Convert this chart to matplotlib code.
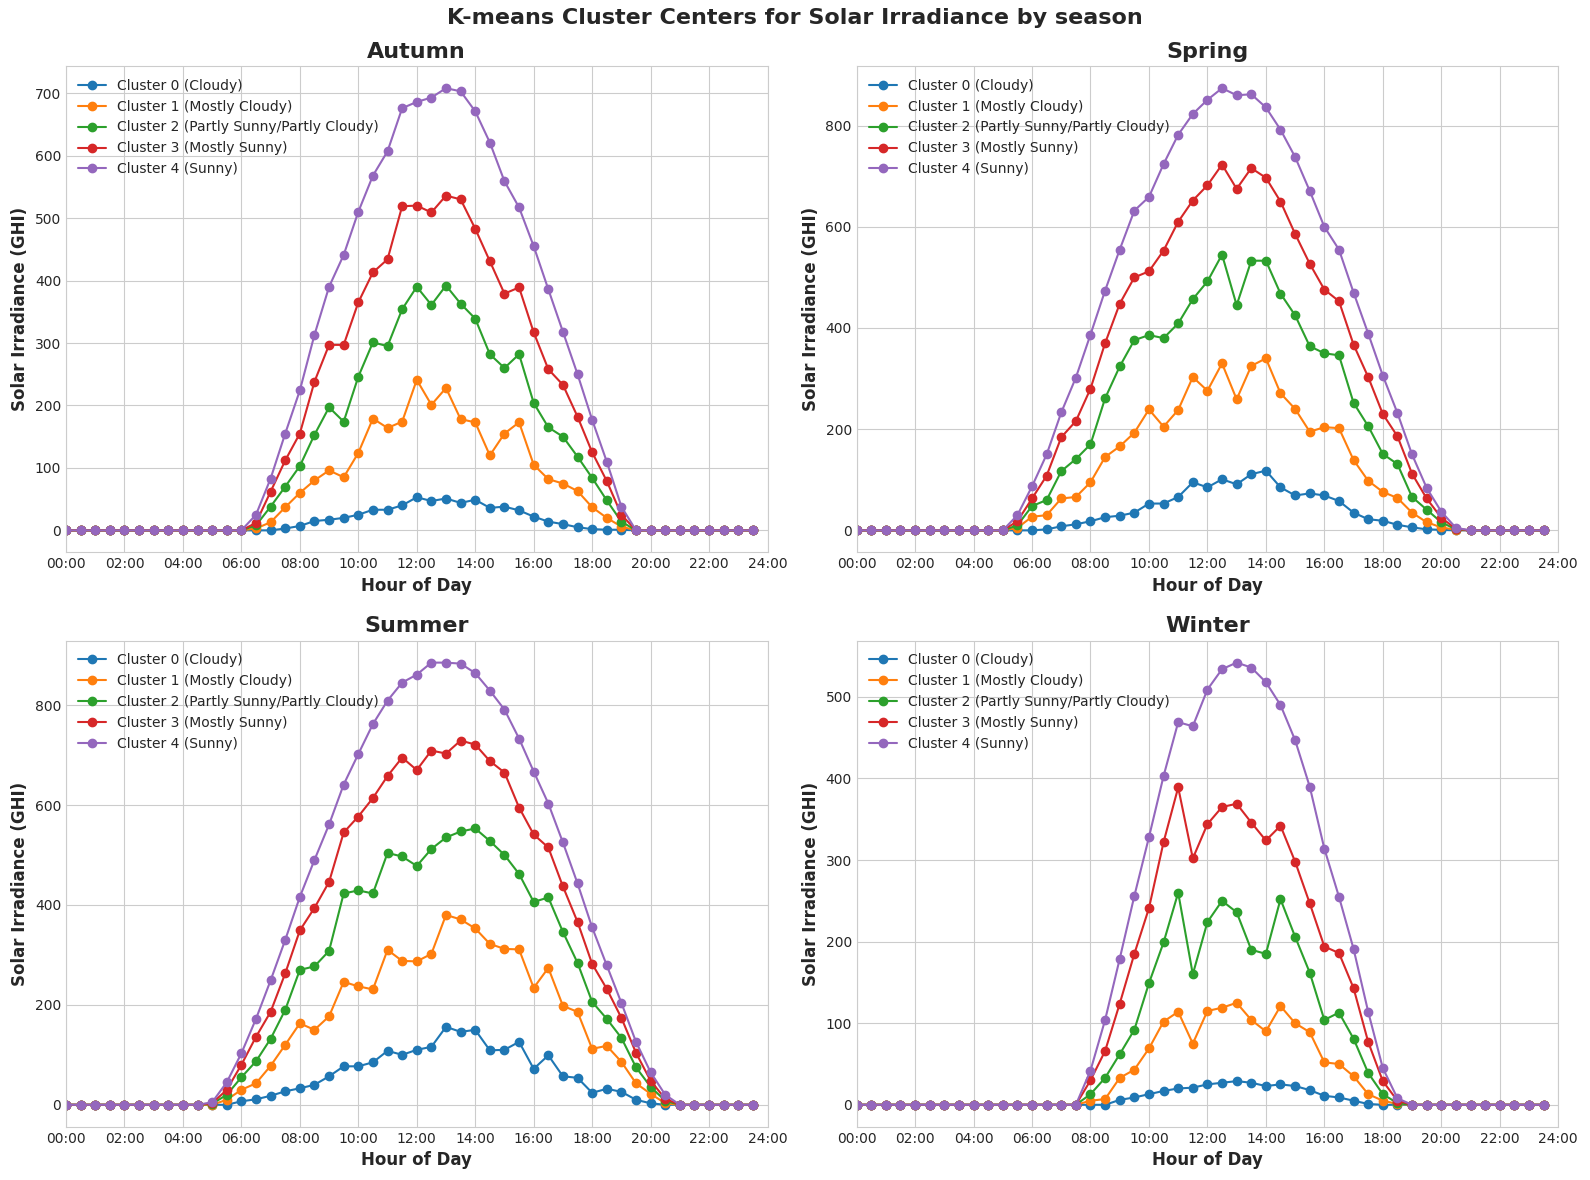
import matplotlib
matplotlib.use("Agg")
import matplotlib.pyplot as plt
from matplotlib.ticker import FuncFormatter, MultipleLocator
import numpy as np

plt.style.use("seaborn-v0_8-whitegrid")
plt.rcParams["font.family"] = ["DejaVu Sans"]

hours = [h * 0.5 for h in range(48)]
seasons = ["Autumn", "Spring", "Summer", "Winter"]
cluster_labels = ["Cluster 0 (Cloudy)", "Cluster 1 (Mostly Cloudy)",
                  "Cluster 2 (Partly Sunny/Partly Cloudy)", "Cluster 3 (Mostly Sunny)",
                  "Cluster 4 (Sunny)"]
colors = ["#1f77b4", "#ff7f0e", "#2ca02c", "#d62728", "#9467bd"]

# Autumn (values from 06:00 to 19:30)
autumn_c0 = [0]*12 + [0,0,0,3,7,15,17,20,25,33,33,40,53,47,51,44,49,36,38,32,22,14,10,5,2,1,1,0] + [0]*8
autumn_c1 = [0]*12 + [0,3,13,37,60,80,96,85,124,179,164,174,241,201,228,178,173,120,155,173,105,82,75,63,37,20,6,0] + [0]*8
autumn_c2 = [0]*12 + [0,8,38,70,103,153,197,174,246,301,295,354,390,361,392,363,339,282,260,282,204,165,150,118,84,48,14,0] + [0]*8
autumn_c3 = [0]*12 + [0,12,62,112,155,238,297,297,365,413,434,519,520,509,536,530,483,431,379,389,317,258,233,182,125,79,25,0] + [0]*8
autumn_c4 = [0]*12 + [0,25,83,155,224,313,390,441,510,568,607,676,686,693,708,703,671,621,559,517,455,386,318,250,177,110,38,0] + [0]*8

# Spring (values from 05:00 to 21:00)
spring_c0 = [0]*10 + [0,0,0,2,8,12,18,26,29,35,53,53,66,95,85,101,91,111,118,85,69,73,69,58,35,22,19,11,6,2,1,0,0] + [0]*5
spring_c1 = [0]*10 + [0,5,27,30,63,66,95,145,166,193,239,205,238,303,276,330,259,325,340,271,240,195,204,202,139,98,76,64,35,16,6,1,0] + [0]*5
spring_c2 = [0]*10 + [0,10,48,60,117,141,170,261,324,376,386,380,409,457,492,545,445,533,533,468,425,364,350,346,252,206,151,131,66,41,16,2,0] + [0]*5
spring_c3 = [0]*10 + [0,18,63,108,184,216,280,370,448,500,512,553,610,652,682,723,675,716,697,650,586,527,476,453,367,303,230,186,112,63,25,3,0] + [0]*5
spring_c4 = [0]*10 + [0,30,87,150,233,302,387,474,555,632,659,724,782,823,851,874,860,862,836,792,738,671,600,555,470,389,306,232,150,84,37,5,0] + [0]*5

# Summer (values from 04:30 to 21:00)
summer_c0 = [0]*9 + [0,0,0,7,11,18,27,33,40,57,77,77,85,108,100,110,116,156,146,150,109,110,126,72,99,57,54,24,32,26,10,3,0,0] + [0]*5
summer_c1 = [0]*9 + [0,0,10,30,43,78,120,163,150,177,246,237,231,310,288,287,302,380,371,353,322,312,311,234,274,198,186,112,118,86,43,22,3,0] + [0]*5
summer_c2 = [0]*9 + [0,2,20,55,87,132,190,270,277,308,423,429,423,504,497,478,512,535,547,553,528,500,462,406,415,346,284,206,172,134,75,36,8,0] + [0]*5
summer_c3 = [0]*9 + [0,3,30,80,136,186,263,349,394,446,545,577,614,658,695,670,709,703,729,721,688,665,595,541,515,437,366,282,232,174,104,48,12,0] + [0]*5
summer_c4 = [0]*9 + [0,5,45,103,172,249,330,416,490,561,641,702,762,809,845,861,885,885,883,864,829,791,733,667,603,525,443,355,279,204,126,65,20,0] + [0]*5

# Winter (values from 07:30 to 19:00)
winter_c0 = [0]*15 + [0,0,0,6,9,13,17,20,21,25,27,29,27,23,25,23,18,11,9,5,1,0,0,0] + [0]*9
winter_c1 = [0]*15 + [0,5,7,33,43,69,102,114,75,115,119,125,104,90,121,100,89,52,50,35,13,5,1,0] + [0]*9
winter_c2 = [0]*15 + [0,13,33,62,92,149,199,260,160,224,250,236,190,185,252,206,162,104,113,81,39,13,2,0] + [0]*9
winter_c3 = [0]*15 + [0,30,66,124,185,241,322,389,302,344,365,369,346,324,342,298,247,194,186,143,77,29,5,0] + [0]*9
winter_c4 = [0]*15 + [0,42,104,179,256,328,403,469,464,509,534,542,536,518,490,447,390,314,255,191,114,45,8,0] + [0]*9

season_data = {
    "Autumn": [autumn_c0, autumn_c1, autumn_c2, autumn_c3, autumn_c4],
    "Spring": [spring_c0, spring_c1, spring_c2, spring_c3, spring_c4],
    "Summer": [summer_c0, summer_c1, summer_c2, summer_c3, summer_c4],
    "Winter": [winter_c0, winter_c1, winter_c2, winter_c3, winter_c4],
}

fig, axes = plt.subplots(2, 2, figsize=(15.9, 11.8), dpi=100)
fig.suptitle("K-means Cluster Centers for Solar Irradiance by season",
             fontsize=16, fontweight="bold", y=0.985, va="center")

fmt = FuncFormatter(lambda v, p: f"{int(v) % 25:02d}:00")

for ax, season in zip(axes.flat, seasons):
    for vals, lab, col in zip(season_data[season], cluster_labels, colors):
        ax.plot(hours, vals, marker="o", markersize=6, linewidth=1.5,
                color=col, label=lab)
    ax.set_title(season, fontsize=16, fontweight="bold")
    ax.set_xlabel("Hour of Day", fontsize=12, fontweight="bold")
    ax.set_ylabel("Solar Irradiance (GHI)", fontsize=12, fontweight="bold")
    ax.set_xlim(0, 24)
    ax.xaxis.set_major_locator(MultipleLocator(2))
    ax.xaxis.set_major_formatter(fmt)
    ax.tick_params(labelsize=10)
    ax.legend(loc="upper left", fontsize=10, frameon=False)
    for sp in ax.spines.values():
        sp.set_visible(True)
        sp.set_color("#cccccc")
        sp.set_linewidth(0.8)

fig.subplots_adjust(left=0.0415, right=0.980, top=0.944, bottom=0.045,
                    wspace=0.127, hspace=0.181)
fig.savefig("out.png", dpi=100)
